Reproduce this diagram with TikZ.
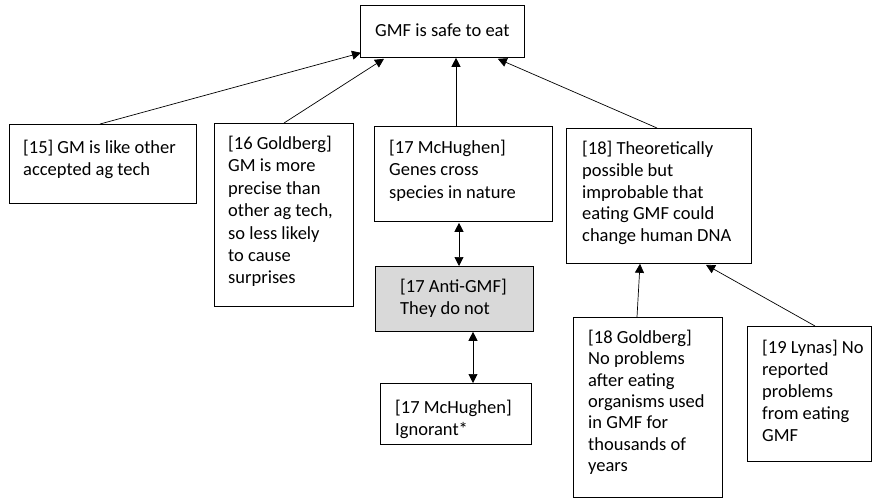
\documentclass[tikz,border=0pt]{standalone}
\usepackage{fontspec}
\setmainfont{Carlito}
\usetikzlibrary{arrows.meta,calc}
\begin{document}
\begin{tikzpicture}[x=1pt,y=-1pt,
  box/.style={draw, line width=0.8pt, anchor=north west, inner sep=0pt},
  txt/.style={anchor=north west, align=left, inner sep=0pt,
    font=\fontsize{18.5}{22.4}\selectfont},
  link/.style={line width=0.7pt, -{Triangle[length=9pt,width=9pt]}},
  both/.style={line width=0.7pt, {Triangle[length=9pt,width=9pt]}-{Triangle[length=9pt,width=9pt]}}]
\useasboundingbox (0,0) rectangle (872,498);

% claim
\node[box, minimum width=164pt, minimum height=52pt] (top) at (360,5) {};
\node[font=\fontsize{18.5}{22}\selectfont, inner sep=0pt] (toptxt) at ($(top.center)+(0,-1)$) {GMF is safe to eat};

% first row of reasons
\node[box, minimum width=187pt, minimum height=79pt] (b15) at (9,124) {};
\node[txt] (t15) at ([shift={(14,16)}]b15.north west) {[15] GM is like other\\accepted ag tech};

\node[box, minimum width=139pt, minimum height=183pt] (b16) at (214,123) {};
\node[txt] (t16) at ([shift={(14,13)}]b16.north west) {[16 Goldberg]\\GM is more\\precise than\\other ag tech,\\so less likely\\to cause\\surprises};

\node[box, minimum width=178pt, minimum height=95pt] (b17) at (374,126) {};
\node[txt] (t17) at ([shift={(15,14)}]b17.north west) {[17 McHughen]\\Genes cross\\species in nature};

\node[box, minimum width=185pt, minimum height=135pt] (b18) at (566,128) {};
\node[txt, font=\fontsize{18.5}{21.8}\selectfont] (t18) at ([shift={(16,13)}]b18.north west) {[18] Theoretically\\possible but\\improbable that\\eating GMF could\\change human DNA};

% objection and rebuttal
\node[box, fill={rgb,255:red,217;green,217;blue,217}, minimum width=158pt, minimum height=65pt] (anti) at (375,266) {};
\node[txt] (tanti) at ([shift={(25,13)}]anti.north west) {[17 Anti-GMF]\\They do not};

\node[box, minimum width=151pt, minimum height=61pt] (ign) at (380,383) {};
\node[txt] (tign) at ([shift={(15,17)}]ign.north west) {[17 McHughen]\\Ignorant*};

% support for [18]
\node[box, minimum width=149pt, minimum height=180pt] (g18) at (573,317) {};
\node[txt, font=\fontsize{18.5}{21.3}\selectfont] (tg18) at ([shift={(15,13)}]g18.north west) {[18 Goldberg]\\No problems\\after eating\\organisms used\\in GMF for\\thousands of\\years};

\node[box, minimum width=124pt, minimum height=135pt] (ly) at (747,326) {};
\node[txt, font=\fontsize{18.5}{22}\selectfont] (tly) at ([shift={(15,14)}]ly.north west) {[19 Lynas] No\\reported\\problems\\from eating\\GMF};

% connectors
\draw[link] ([shift={(91,0)}]b15.north west) -- ([shift={(1,-5)}]top.south west);
\draw[link] ([shift={(70,0)}]b16.north west) -- ([shift={(24,1)}]top.south west);
\draw[link] ([shift={(82,0)}]b17.north west) -- ([shift={(96,0)}]top.south west);
\draw[link] ([shift={(91,0)}]b18.north west) -- ([shift={(-27,1)}]top.south east);
\draw[both] ([shift={(85,1)}]b17.south west) -- ([shift={(84,0)}]anti.north west);
\draw[both] ([shift={(98,0)}]anti.south west) -- ([shift={(93,0)}]ign.north west);
\draw[link] ([shift={(64,0)}]g18.north west) -- ([shift={(74,0)}]b18.south west);
\draw[link] ([shift={(68,0)}]ly.north west) -- ([shift={(140,1)}]b18.south west);
\end{tikzpicture}
\end{document}
